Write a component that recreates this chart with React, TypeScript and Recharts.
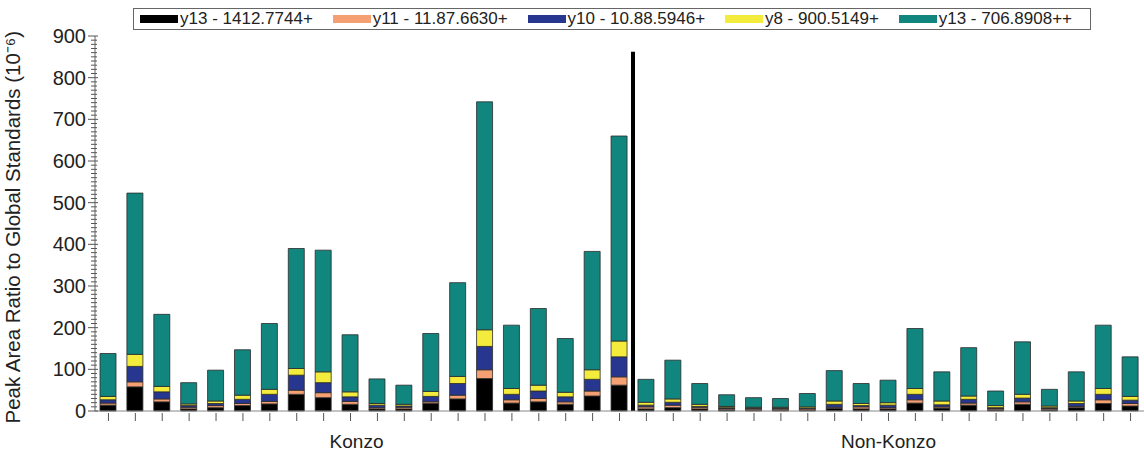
import { Bar, BarChart, Legend, ReferenceLine, XAxis, YAxis } from "recharts";

const konzo = Array.from({ length: 20 }, (_, i) => `K${i + 1}`);
const nonKonzo = Array.from({ length: 19 }, (_, i) => `N${i + 1}`);
const categories = [...konzo, ...nonKonzo];

// stacked segments, bottom to top
const y13a = [14, 58, 22, 5, 8, 13, 17, 40, 32, 16, 5, 5, 18, 29, 78, 19, 22, 16, 36, 62,
  5, 8, 5, 3, 2, 2, 2, 6, 5, 5, 19, 7, 14, 3, 16, 3, 8, 18, 12];
const y11 = [5, 12, 7, 4, 5, 5, 6, 10, 12, 7, 3, 4, 4, 9, 21, 8, 8, 6, 12, 20,
  5, 6, 4, 3, 3, 3, 3, 3, 5, 3, 8, 3, 5, 3, 6, 3, 3, 9, 6];
const y10 = [8, 37, 17, 4, 5, 10, 17, 36, 24, 11, 6, 3, 13, 28, 56, 13, 18, 12, 28, 48,
  4, 7, 2, 2, 2, 2, 2, 7, 3, 6, 13, 5, 9, 2, 9, 2, 7, 13, 8];
const y8 = [8, 29, 13, 4, 6, 10, 12, 16, 26, 12, 4, 4, 12, 17, 40, 14, 14, 11, 23, 38,
  7, 8, 5, 3, 2, 2, 3, 8, 5, 6, 14, 9, 8, 5, 9, 4, 6, 14, 9];
const y13b = [103, 387, 173, 51, 74, 109, 158, 288, 292, 137, 59, 46, 139, 225, 547, 152, 184, 129, 284, 492,
  55, 93, 50, 28, 23, 21, 32, 73, 48, 54, 144, 70, 116, 35, 126, 40, 70, 152, 95];

const yTicks = Array.from({ length: 91 }, (_, i) => i * 10);
const groupLabels = [
  { at: "K10", text: "Konzo", dx: 6 },
  { at: "N10", text: "Non-Konzo", dx: 0 },
];

const series = [
  { key: "a", name: "y13 - 1412.7744+", color: "#000000", values: y13a },
  { key: "b", name: "y11 - 11.87.6630+", color: "#f4a072", values: y11 },
  { key: "c", name: "y10 - 10.88.5946+", color: "#27378f", values: y10 },
  { key: "d", name: "y8 - 900.5149+", color: "#f3ec3c", values: y8 },
  { key: "e", name: "y13 - 706.8908++", color: "#10867f", values: y13b },
];

const data = categories.map((c, i) => {
  const row: Record<string, string | number> = { name: c };
  series.forEach((s) => (row[s.key] = s.values[i]));
  return row;
});

const font = "'Liberation Sans', Arial, sans-serif";

function YTick(props: any) {
  const { x, y, payload } = props;
  const major = payload.value % 100 === 0;
  const ax = x + 8;
  return (
    <g>
      <line x1={major ? ax - 7 : ax - 4} x2={major ? ax + 3 : ax + 2} y1={y} y2={y} stroke="#555" strokeWidth={1} />
      {major && (
        <text x={ax - 9} y={y} dy={7} textAnchor="end" fontSize={20} fill="#222" fontFamily={font}>
          {payload.value}
        </text>
      )}
    </g>
  );
}

function XTick(props: any) {
  const { x, y, payload } = props;
  const group = groupLabels.find((g) => g.at === payload.value);
  return (
    <g>
      <line x1={x} x2={x} y1={y - 6} y2={y + 2} stroke="#555" strokeWidth={1} />
      {group && (
        <text x={x + group.dx} y={y + 29} textAnchor="middle" fontSize={19} fill="#222" fontFamily={font}>
          {group.text}
        </text>
      )}
    </g>
  );
}

function LegendBox() {
  return (
    <div
      style={{
        display: "flex",
        alignItems: "center",
        justifyContent: "space-between",
        boxSizing: "border-box",
        width: 958,
        height: 22,
        border: "1px solid #666",
        padding: "0 18px 0 6px",
        fontFamily: font,
        fontSize: 17,
        color: "#222",
        whiteSpace: "nowrap",
      }}
    >
      {series.map((s) => (
        <span key={s.key} style={{ display: "flex", alignItems: "center" }}>
          <span style={{ display: "inline-block", width: 38, height: 8, background: s.color, marginRight: 2 }} />
          {s.name}
        </span>
      ))}
    </div>
  );
}

function SeparatorShape(props: any) {
  const { x1, y1, y2 } = props;
  const xx = x1 + 13.5;
  return <line x1={xx} x2={xx} y1={y1} y2={y2} stroke="#000" strokeWidth={4} />;
}

export default function App() {
  return (
    <div style={{ position: "absolute", left: 0, top: 0, width: 1144, height: 457, background: "#fff" }}>
      <BarChart width={1144} height={457} data={data} margin={{ top: 14, right: 0, left: 0, bottom: 0 }} barSize={16}>
        <Legend
          content={<LegendBox />}
          verticalAlign="top"
          wrapperStyle={{ position: "absolute", left: 133, top: 8, width: "auto", height: 22 }}
        />
        <XAxis
          dataKey="name"
          interval={0}
          height={46}
          stroke="#888"
          tickLine={false}
          tickSize={8}
          tickMargin={0}
          tick={<XTick />}
        />
        <YAxis
          domain={[0, 900]}
          ticks={yTicks}
          interval={0}
          width={95}
          stroke="#666"
          tickLine={false}
          tickSize={8}
          tickMargin={0}
          tick={<YTick />}
          label={{
            value: "Peak Area Ratio to Global Standards (10⁻⁶)",
            angle: -90,
            position: "insideLeft",
            dx: 8,
            dy: 200,
            style: { fontSize: 20.5, fill: "#222", fontFamily: font },
          }}
        />
        {series.map((s) => (
          <Bar
            key={s.key}
            dataKey={s.key}
            name={s.name}
            stackId="s"
            fill={s.color}
            stroke="#2b2b2b"
            strokeWidth={0.8}
            isAnimationActive={false}
          />
        ))}
        <ReferenceLine
          segment={[
            { x: "K20", y: 0 },
            { x: "K20", y: 862 },
          ]}
          shape={<SeparatorShape />}
        />
      </BarChart>
    </div>
  );
}
